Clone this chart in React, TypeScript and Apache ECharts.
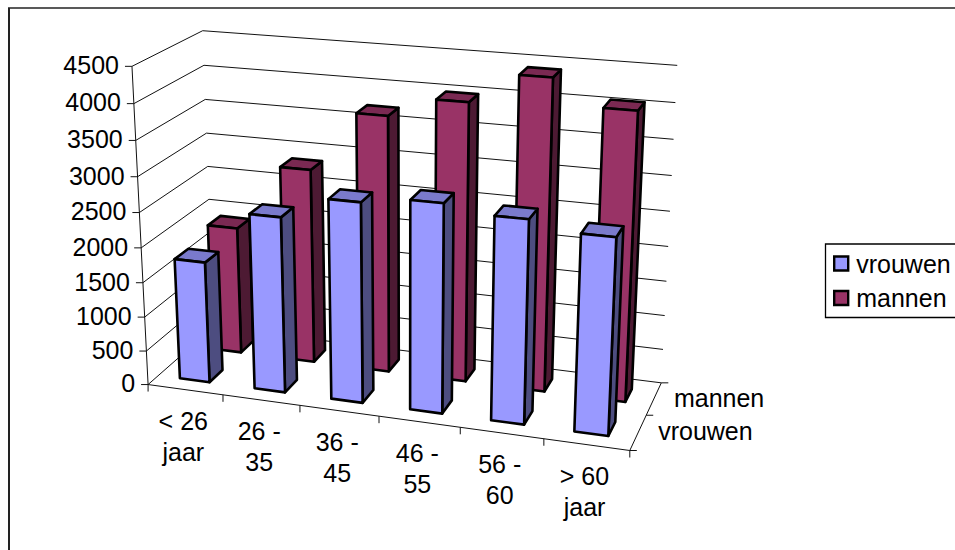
import React, { useEffect, useRef } from "react";
import * as echarts from "echarts";

const categories = ["< 26\njaar", "26 -\n35", "36 -\n45", "46 -\n55", "56 -\n60", "> 60\njaar"];
const vrouwen = [1760, 2520, 2840, 2940, 2840, 2720];
const mannen = [1885, 2850, 3710, 3990, 4410, 4060];
const yTicks = [0, 500, 1000, 1500, 2000, 2500, 3000, 3500, 4000, 4500];
const seriesNames = ["vrouwen", "mannen"];
const FONT = '25px "Liberation Sans", Arial, sans-serif';

// Calibration of the oblique 3D view: [u, v, w, screenX, screenY]
const anchors: number[][] = [
  [0, 0, 0, 148.3, 384], [1 / 6, 0, 0, 222.7, 395], [2 / 6, 0, 0, 300, 405], [3 / 6, 0, 0, 379, 416],
  [4 / 6, 0, 0, 460, 427.7], [5 / 6, 0, 0, 544, 439.3], [1, 0, 0, 630, 450.7],
  [0, 0, 1 / 9, 146.5, 350.7], [0, 0, 2 / 9, 144.8, 316.7], [0, 0, 3 / 9, 143, 282.7], [0, 0, 4 / 9, 141.2, 247.3],
  [0, 0, 5 / 9, 139.4, 212], [0, 0, 6 / 9, 137.5, 176.7], [0, 0, 7 / 9, 135.6, 141], [0, 0, 8 / 9, 133.7, 104.3], [0, 0, 1, 131.7, 66.7],
  [0, 1, 0, 214, 329], [0, 1, 1, 203, 30.7], [0, 1, 8 / 9, 204, 65], [0, 1, 7 / 9, 205, 99.5], [0, 1, 6 / 9, 206, 132.7], [0, 1, 5 / 9, 208, 166], [0, 1, 4 / 9, 209, 199],
  [1, 1, 1, 678, 66], [1, 1, 8 / 9, 675.5, 103], [1, 1, 7 / 9, 673.7, 139], [1, 1, 6 / 9, 672, 175.7], [1, 1, 5 / 9, 670, 211],
  [1, 1, 4 / 9, 667.5, 246], [1, 1, 3 / 9, 665.5, 281], [1, 1, 2 / 9, 664, 315], [1, 1, 1 / 9, 663, 349], [1, 1, 0, 661.7, 382.7],
  [1, 0.5, 0, 646.7, 415.7],
];

function solveProjection(): number[] {
  const n = 11;
  const A = Array.from({ length: n }, () => new Array(n + 1).fill(0));
  const add = (r: number[], t: number) => {
    for (let i = 0; i < n; i++) {
      for (let j = 0; j < n; j++) A[i][j] += r[i] * r[j];
      A[i][n] += r[i] * t;
    }
  };
  for (const [u, v, w, x, y] of anchors) {
    add([u, v, w, 1, 0, 0, 0, 0, -x * u, -x * v, -x * w], x);
    add([0, 0, 0, 0, u, v, w, 1, -y * u, -y * v, -y * w], y);
  }
  for (let c = 0; c < n; c++) {
    let p = c;
    for (let r = c + 1; r < n; r++) if (Math.abs(A[r][c]) > Math.abs(A[p][c])) p = r;
    [A[c], A[p]] = [A[p], A[c]];
    for (let r = 0; r < n; r++) {
      if (r === c) continue;
      const f = A[r][c] / A[c][c];
      for (let k = c; k <= n; k++) A[r][k] -= f * A[c][k];
    }
  }
  return A.map((row, i) => row[n] / row[i]);
}
const M = solveProjection();
const project = (u: number, v: number, w: number): number[] => {
  const d = M[8] * u + M[9] * v + M[10] * w + 1;
  return [(M[0] * u + M[1] * v + M[2] * w + M[3]) / d, (M[4] * u + M[5] * v + M[6] * w + M[7]) / d];
};

const line = (a: number[], b: number[], lineWidth = 1, stroke = "#111") => ({
  type: "line",
  shape: { x1: a[0], y1: a[1], x2: b[0], y2: b[1] },
  style: { stroke, lineWidth, fill: null },
});
const label = (text: string, x: number, y: number, align: string) => ({
  type: "text",
  style: { text, x, y, fill: "#000", font: FONT, align, verticalAlign: "middle", lineHeight: 31 },
});
const normW = (params: any, api: any, val: number) => {
  const g = params.coordSys;
  return (g.y + g.height - api.coord([0, val])[1]) / g.height;
};

const renderWalls = (params: any, api: any) => {
  const val = api.value(0);
  const w = normW(params, api, val);
  const a = project(0, 0, w), b = project(0, 1, w), c = project(1, 1, w);
  const children: any[] = [
    line(a, b),
    line(b, c),
    line([a[0] - 7, a[1]], a),
    label(String(val), a[0] - 13, a[1] - 1.2, "right"),
  ];
  if (params.dataIndex === 0) {
    children.push(line(project(0, 0, 0), project(0, 0, 1)));
    children.push(line(project(0, 0, 0), project(1, 0, 0)));
    children.push(line(project(1, 0, 0), project(1, 1, 0)));
    for (const v of [0, 0.5, 1]) {
      const p = project(1, v, 0);
      children.push(line(p, [p[0] + 7, p[1]]));
    }
    const end = project(1, 0, 0);
    children.push(line(end, [end[0], end[1] + 7]));
    seriesNames.forEach((name, i) => {
      const p = project(1, 0.25 + i * 0.5, 0);
      children.push(label(name, p[0] + 20, p[1] - 1, "left"));
    });
  }
  return { type: "group", children };
};

const renderCategory = (params: any, api: any) => {
  const g = params.coordSys;
  const c = api.coord([api.value(0), 0]);
  const band = api.size([1, 0])[0];
  const uc = (c[0] - g.x) / g.width;
  const du = band / g.width / 2;
  const t = project(uc - du, 0, 0);
  const m = project(uc, 0, 0);
  return {
    type: "group",
    children: [
      line(t, [t[0], t[1] + 7]),
      label(categories[params.dataIndex], m[0] - 2, m[1] + 46.5, "center"),
    ],
  };
};

const makeBars = (v0: number, v1: number, front: string, top: string, side: string) => (params: any, api: any) => {
  const g = params.coordSys;
  const c = api.coord([api.value(0), api.value(1)]);
  const band = api.size([1, 0])[0] / g.width;
  const uc = (c[0] - g.x) / g.width;
  const w = (g.y + g.height - c[1]) / g.height;
  const u0 = uc - 0.21 * band, u1 = uc + 0.19 * band;
  const poly = (pts: number[][], fill: string) => ({
    type: "polygon",
    shape: { points: pts },
    style: { fill, stroke: "#000", lineWidth: 2.6, lineJoin: "round" },
  });
  return {
    type: "group",
    children: [
      poly([project(u1, v0, 0), project(u1, v1, 0), project(u1, v1, w), project(u1, v0, w)], side),
      poly([project(u0, v0, w), project(u1, v0, w), project(u1, v1, w), project(u0, v1, w)], top),
      poly([project(u0, v0, 0), project(u1, v0, 0), project(u1, v0, w), project(u0, v0, w)], front),
    ],
  };
};

export default function App() {
  const ref = useRef<HTMLDivElement>(null);
  useEffect(() => {
    if (!ref.current) return;
    const chart = echarts.init(ref.current, undefined, { renderer: "svg" });
    const idx = categories.map((_, i) => i);
    chart.setOption({
      animation: false,
      grid: { left: 100, right: 100, top: 50, bottom: 50 },
      xAxis: { type: "category", data: categories, show: false },
      yAxis: { type: "value", min: 0, max: 4500, interval: 500, show: false },
      legend: {
        orient: "vertical",
        left: 825.5,
        top: 244,
        padding: [7, 12, 7, 7.5],
        itemGap: 9.5,
        itemWidth: 14,
        itemHeight: 14,
        borderColor: "#000",
        borderWidth: 1.3,
        selectedMode: false,
        icon: "rect",
        textStyle: { fontFamily: '"Liberation Sans", Arial, sans-serif', fontSize: 25, color: "#000", padding: [0, 0, 0, 3] },
        data: [
          { name: "vrouwen", itemStyle: { color: "#9999FF", borderColor: "#000", borderWidth: 2.4 } },
          { name: "mannen", itemStyle: { color: "#993366", borderColor: "#000", borderWidth: 2.4 } },
        ],
      },
      graphic: [
        { type: "line", shape: { x1: 9, y1: 8, x2: 9, y2: 550 }, style: { stroke: "#222", lineWidth: 2 } },
        { type: "line", shape: { x1: 8, y1: 8, x2: 955, y2: 8 }, style: { stroke: "#222", lineWidth: 1.3 } },
      ],
      series: [
        { type: "custom", name: "walls", coordinateSystem: "cartesian2d", silent: true, clip: false, renderItem: renderWalls, encode: { x: 1, y: 0 }, data: yTicks.map((t) => [t, 0]) },
        { type: "custom", name: "cats", coordinateSystem: "cartesian2d", silent: true, clip: false, renderItem: renderCategory, encode: { x: 0, y: 1 }, data: idx.map((i) => [i, 0]) },
        {
          type: "custom", name: "mannen", coordinateSystem: "cartesian2d", silent: true, clip: false,
          itemStyle: { color: "#993366" }, encode: { x: 0, y: 1 },
          renderItem: makeBars(0.65, 0.85, "#993366", "#7A2952", "#4D1A33"),
          data: idx.map((i) => [i, mannen[i]]),
        },
        {
          type: "custom", name: "vrouwen", coordinateSystem: "cartesian2d", silent: true, clip: false,
          itemStyle: { color: "#9999FF" }, encode: { x: 0, y: 1 },
          renderItem: makeBars(0.15, 0.35, "#9999FF", "#7A7ACC", "#4D4D80"),
          data: idx.map((i) => [i, vrouwen[i]]),
        },
      ],
    });
    return () => chart.dispose();
  }, []);
  return <div ref={ref} style={{ position: "fixed", left: 0, top: 0, width: 955, height: 550, background: "#fff" }} />;
}
